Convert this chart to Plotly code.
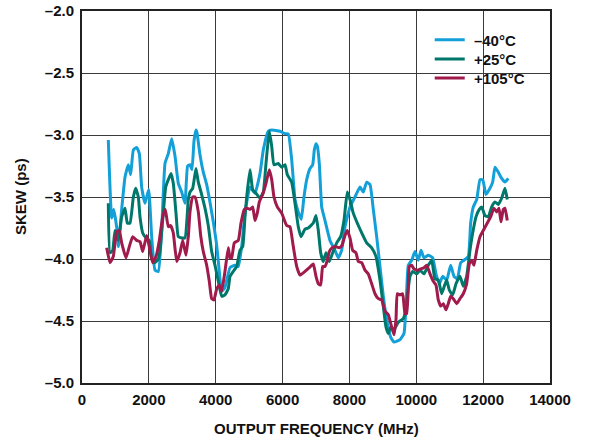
import plotly.graph_objects as go

# Output frequency (MHz) and skew (ps) for each temperature
freq_m40 = [787, 888, 950, 1040, 1087, 1187, 1286, 1386, 1456, 1536, 1636, 1715, 1785, 1885,
            1995, 2084, 2184, 2283, 2383, 2483, 2582, 2683, 2782, 2881, 2982, 3081, 3160, 3231,
            3290, 3350, 3410, 3440, 3529, 3628, 3730, 3828, 3927, 4029, 4107, 4178, 4277, 4427,
            4576, 4675, 4777, 4876, 5025, 5175, 5324, 5424, 5573, 5675, 5923, 6073, 6171, 6273,
            6372, 6470, 6560, 6640, 6722, 6820, 6901, 6950, 7000, 7040, 7099, 7170, 7269, 7418,
            7568, 7667, 7768, 7867, 8017, 8166, 8316, 8415, 8516, 8615, 8714, 8815, 8914, 9013,
            9115, 9234, 9333, 9513, 9632, 9692, 9732, 9761, 9862, 9961, 10060, 10141, 10230,
            10359, 10491, 10589, 10688, 10790, 10910, 11029, 11128, 11227, 11328, 11427, 11556,
            11627, 11706, 11808, 11906, 11987, 12085, 12184, 12285, 12354, 12453, 12554, 12653,
            12752]
skew_m40 = [-3.04, -3.67, -3.60, -3.75, -3.90, -3.60, -3.34, -3.24, -3.32, -3.12, -3.10, -3.15,
            -3.42, -3.55, -3.44, -3.82, -4.09, -4.10, -3.77, -3.23, -3.15, -3.03, -3.17, -3.39,
            -3.46, -3.55, -3.25, -3.24, -3.28, -3.05, -2.96, -2.98, -3.16, -3.30, -3.40, -3.54,
            -3.70, -3.89, -4.10, -4.26, -4.23, -4.07, -4.05, -4.06, -3.90, -3.63, -3.42, -3.47,
            -3.31, -3.12, -2.97, -2.96, -2.97, -2.99, -2.99, -3.20, -3.52, -3.62, -3.68, -3.50,
            -3.36, -3.27, -3.24, -3.12, -3.07, -3.09, -3.23, -3.58, -3.69, -3.85, -3.93, -3.99,
            -3.93, -3.74, -3.58, -3.50, -3.42, -3.46, -3.38, -3.40, -3.60, -3.82, -4.06, -4.30,
            -4.49, -4.63, -4.67, -4.65, -4.60, -4.38, -4.14, -4.05, -4.01, -3.94, -4.01, -3.93,
            -3.99, -3.97, -3.99, -4.12, -4.20, -4.14, -4.17, -4.05, -4.14, -4.16, -4.03, -4.01,
            -3.98, -3.71, -3.58, -3.52, -3.36, -3.36, -3.48, -3.44, -3.38, -3.26, -3.30, -3.35,
            -3.38, -3.35]

freq_p25 = [787, 838, 918, 987, 1087, 1187, 1286, 1356, 1436, 1536, 1606, 1685, 1735, 1816,
            1915, 2013, 2084, 2184, 2283, 2333, 2432, 2503, 2582, 2662, 2731, 2812, 2881, 2982,
            3081, 3180, 3231, 3311, 3410, 3479, 3580, 3679, 3778, 3879, 3978, 4077, 4178, 4277,
            4376, 4427, 4526, 4628, 4726, 4807, 4876, 4927, 5025, 5106, 5205, 5324, 5424, 5504,
            5603, 5675, 5743, 5872, 5974, 6073, 6141, 6273, 6372, 6470, 6550, 6671, 6769, 6919,
            7000, 7069, 7140, 7218, 7299, 7398, 7499, 7619, 7738, 7837, 7936, 8017, 8115, 8235,
            8367, 8516, 8666, 8795, 8914, 9013, 9094, 9163, 9234, 9333, 9462, 9611, 9662, 9732,
            9812, 9892, 10012, 10111, 10230, 10359, 10461, 10559, 10658, 10760, 10838, 10910,
            10987, 11089, 11188, 11307, 11406, 11506, 11606, 11687, 11786, 11885, 11956, 12055,
            12154, 12255, 12354, 12453, 12554, 12653, 12722]
skew_p25 = [-3.55, -3.95, -3.93, -3.77, -3.85, -3.66, -3.59, -3.71, -3.71, -3.50, -3.43, -3.50,
            -3.66, -3.79, -3.83, -3.85, -4.00, -4.03, -4.00, -3.93, -3.63, -3.42, -3.36, -3.31,
            -3.39, -3.63, -3.82, -3.83, -3.83, -3.52, -3.46, -3.43, -3.27, -3.38, -3.48, -3.59,
            -3.73, -3.94, -4.05, -4.18, -4.30, -4.29, -4.24, -4.14, -4.10, -4.06, -3.93, -3.90,
            -3.66, -3.50, -3.28, -3.44, -3.47, -3.51, -3.46, -3.23, -2.97, -3.09, -3.24, -3.23,
            -3.26, -3.24, -3.32, -3.38, -3.55, -3.74, -3.82, -3.76, -3.75, -3.71, -3.65, -3.77,
            -3.95, -4.02, -3.95, -4.02, -3.95, -3.87, -3.82, -3.69, -3.46, -3.52, -3.63, -3.71,
            -3.79, -3.87, -3.91, -3.98, -4.17, -4.38, -4.55, -4.60, -4.55, -4.57, -4.51, -4.48,
            -4.44, -4.30, -4.14, -4.10, -4.12, -4.09, -4.12, -4.05, -4.01, -4.16, -4.17, -4.28,
            -4.22, -4.17, -4.25, -4.29, -4.20, -4.14, -4.22, -4.14, -3.93, -3.79, -3.66, -3.60,
            -3.58, -3.65, -3.66, -3.58, -3.54, -3.56, -3.51, -3.43, -3.52]

freq_p105 = [739, 838, 936, 1038, 1116, 1187, 1316, 1415, 1517, 1636, 1735, 1816, 1935, 2034,
             2115, 2214, 2313, 2414, 2492, 2582, 2653, 2731, 2833, 2932, 3012, 3111, 3180, 3231,
             3311, 3380, 3479, 3550, 3628, 3730, 3808, 3879, 3948, 4029, 4107, 4178, 4277, 4376,
             4427, 4478, 4556, 4675, 4756, 4855, 4927, 5025, 5106, 5175, 5244, 5304, 5405, 5504,
             5603, 5675, 5743, 5842, 5974, 6123, 6222, 6321, 6422, 6521, 6671, 6800, 6919, 7000,
             7069, 7140, 7200, 7269, 7338, 7398, 7479, 7577, 7697, 7777, 7867, 7936, 8017, 8097,
             8196, 8266, 8367, 8466, 8565, 8666, 8765, 8864, 8965, 9064, 9163, 9264, 9333, 9393,
             9432, 9513, 9592, 9662, 9712, 9750, 9792, 9862, 9931, 10031, 10131, 10230, 10311,
             10410, 10510, 10589, 10658, 10730, 10808, 10889, 10957, 11029, 11107, 11209, 11307,
             11406, 11506, 11586, 11656, 11726, 11808, 11906, 12004, 12124, 12225, 12324, 12404,
             12474, 12534, 12603, 12653, 12722]
skew_p105 = [-3.91, -4.03, -3.98, -3.78, -3.77, -3.87, -3.99, -3.90, -3.82, -3.85, -3.86, -3.94,
             -3.81, -3.93, -4.03, -3.98, -3.85, -3.66, -3.60, -3.74, -3.73, -3.79, -4.02, -3.95,
             -3.85, -3.97, -3.82, -3.62, -3.50, -3.50, -3.62, -3.81, -3.94, -4.05, -4.18, -4.32,
             -4.33, -4.24, -4.21, -4.26, -4.10, -3.91, -3.99, -3.99, -3.87, -3.85, -3.71, -3.60,
             -3.59, -3.60, -3.58, -3.69, -3.63, -3.54, -3.48, -3.39, -3.28, -3.36, -3.50, -3.58,
             -3.63, -3.73, -3.74, -3.90, -4.06, -4.13, -4.10, -4.07, -4.04, -4.14, -4.20, -4.21,
             -4.06, -4.06, -4.01, -3.94, -3.91, -3.90, -3.91, -3.89, -3.81, -3.77, -3.83, -3.93,
             -3.95, -4.02, -4.03, -4.09, -4.12, -4.20, -4.28, -4.32, -4.33, -4.42, -4.45, -4.55,
             -4.61, -4.49, -4.28, -4.29, -4.28, -4.44, -4.44, -4.30, -4.06, -4.05, -4.08, -4.09,
             -4.08, -4.07, -4.05, -4.12, -4.18, -4.21, -4.33, -4.38, -4.36, -4.41, -4.36, -4.30,
             -4.32, -4.36, -4.32, -4.28, -4.20, -4.04, -4.01, -4.05, -3.93, -3.82, -3.77, -3.71,
             -3.66, -3.59, -3.62, -3.59, -3.70, -3.60, -3.59, -3.69]

series_names = ["\u201340\u00b0C", "+25\u00b0C", "+105\u00b0C"]
series_colors = ["#13a0d8", "#00776b", "#a01a4b"]

x_tickvals = [0, 2000, 4000, 6000, 8000, 10000, 12000, 14000]
x_ticktext = ["0", "2000", "4000", "6000", "8000", "10000", "12000", "14000"]
y_tickvals = [-5.0, -4.5, -4.0, -3.5, -3.0, -2.5, -2.0]
y_ticktext = ["\u20135.0", "\u20134.5", "\u20134.0", "\u20133.5", "\u20133.0", "\u20132.5", "\u20132.0"]

FONT = "Liberation Sans, Arial, sans-serif"
TEXT_FONT = dict(family=FONT, size=15, color="#111111", weight="bold")

# one legend box per series so the rows can sit tightly stacked
legend_ids = ["legend", "legend2", "legend3"]
legend_rows_y = [0.922, 0.870, 0.819]

fig = go.Figure()
for xs, ys, name, color, lg in zip(
    [freq_m40, freq_p25, freq_p105],
    [skew_m40, skew_p25, skew_p105],
    series_names, series_colors, legend_ids,
):
    fig.add_trace(go.Scatter(
        x=xs, y=ys, name="\u00a0" + name, mode="lines", legend=lg,
        line=dict(color=color, width=3, shape="spline", smoothing=0.4),
    ))

axis_common = dict(
    showgrid=True, gridcolor="#3a3a3a", gridwidth=1.3,
    showline=True, linecolor="#222222", linewidth=2, mirror=True,
    zeroline=False, ticks="", automargin=False,
    tickfont=TEXT_FONT,
)

fig.update_xaxes(range=[0, 14000], tickvals=x_tickvals, ticktext=x_ticktext,
                 ticklabelstandoff=2, **axis_common)
fig.update_yaxes(range=[-5.0, -2.0], tickvals=y_tickvals, ticktext=y_ticktext,
                 ticklabelstandoff=3, **axis_common)

# White panel behind the legend that interrupts the grid
fig.add_shape(type="rect", xref="paper", yref="paper",
              x0=0.7265, x1=0.968, y0=0.774, y1=0.960,
              fillcolor="white", line=dict(width=0), layer="between")

fig.add_annotation(text="OUTPUT FREQUENCY (MHz)", xref="paper", yref="paper",
                   x=0.5, y=0, xanchor="center", yanchor="middle", yshift=-45,
                   showarrow=False, font=TEXT_FONT)
fig.add_annotation(text="SKEW (ps)", xref="paper", yref="paper",
                   x=0, y=0.5, xanchor="center", yanchor="middle", xshift=-62,
                   textangle=-90, showarrow=False, font=TEXT_FONT)

legend_style = dict(
    x=0.743, xanchor="left", yanchor="middle",
    bgcolor="rgba(0,0,0,0)", borderwidth=0,
    font=TEXT_FONT, itemwidth=30,
)
fig.update_layout(
    width=594, height=442,
    margin=dict(l=82, r=44, t=11, b=59, autoexpand=False),
    paper_bgcolor="white", plot_bgcolor="white",
    showlegend=True,
    legend=dict(y=legend_rows_y[0], **legend_style),
    legend2=dict(y=legend_rows_y[1], **legend_style),
    legend3=dict(y=legend_rows_y[2], **legend_style),
)

fig.write_html("out.html")
